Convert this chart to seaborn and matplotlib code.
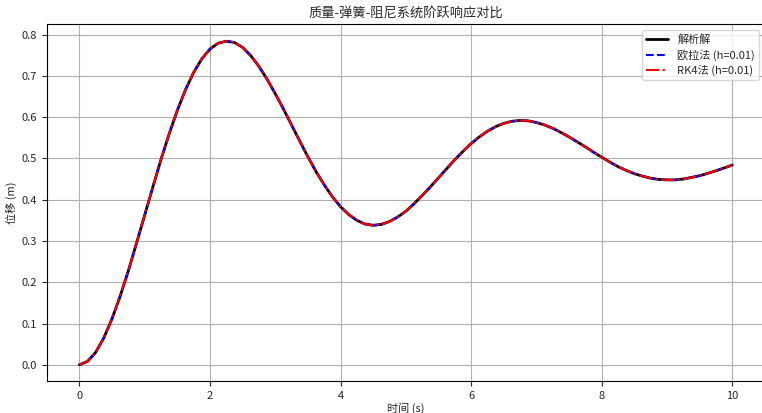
import numpy as np
import pandas as pd
import matplotlib
matplotlib.use("Agg")
import matplotlib.pyplot as plt
import seaborn as sns

# Values (t in s, displacement in m)
time_s = [0.0, 0.125, 0.25, 0.375, 0.5, 0.625, 0.75, 0.875,
          1.0, 1.125, 1.25, 1.375, 1.5, 1.625, 1.75, 1.875,
          2.0, 2.125, 2.25, 2.375, 2.5, 2.625, 2.75, 2.875,
          3.0, 3.125, 3.25, 3.375, 3.5, 3.625, 3.75, 3.875,
          4.0, 4.125, 4.25, 4.375, 4.5, 4.625, 4.75, 4.875,
          5.0, 5.125, 5.25, 5.375, 5.5, 5.625, 5.75, 5.875,
          6.0, 6.125, 6.25, 6.375, 6.5, 6.625, 6.75, 6.875,
          7.0, 7.125, 7.25, 7.375, 7.5, 7.625, 7.75, 7.875,
          8.0, 8.125, 8.25, 8.375, 8.5, 8.625, 8.75, 8.875,
          9.0, 9.125, 9.25, 9.375, 9.5, 9.625, 9.75, 9.875, 10.0]
analytic = [0.000, 0.008, 0.030, 0.065, 0.111, 0.166, 0.227, 0.294,
            0.362, 0.430, 0.497, 0.559, 0.616, 0.666, 0.708, 0.741,
            0.765, 0.779, 0.784, 0.781, 0.769, 0.749, 0.723, 0.692,
            0.657, 0.620, 0.581, 0.542, 0.504, 0.468, 0.436, 0.407,
            0.383, 0.364, 0.350, 0.341, 0.338, 0.340, 0.347, 0.358,
            0.372, 0.390, 0.410, 0.431, 0.453, 0.475, 0.497, 0.517,
            0.536, 0.552, 0.566, 0.577, 0.585, 0.590, 0.592, 0.591,
            0.587, 0.581, 0.573, 0.563, 0.552, 0.540, 0.528, 0.515,
            0.503, 0.491, 0.480, 0.471, 0.463, 0.457, 0.452, 0.449,
            0.448, 0.448, 0.450, 0.454, 0.458, 0.464, 0.470, 0.477, 0.484]
# the numerical solutions overlap the analytic curve in the picture
euler = list(analytic)
rk4 = list(analytic)

labels = ["解析解", "欧拉法 (h=0.01)", "RK4法 (h=0.01)"]

sns.set_style("ticks")
plt.rcParams['font.family'] = ['Noto Sans CJK SC', 'DejaVu Sans']
plt.rcParams['axes.unicode_minus'] = False

fig = plt.figure(figsize=(7.62, 4.13), dpi=100)
ax = fig.add_axes([0.0612, 0.0775, 0.9428, 0.8637])

df = pd.DataFrame({"t": time_s, "a": analytic, "e": euler, "r": rk4})
sns.lineplot(data=df, x="t", y="a", ax=ax, color="black", linewidth=2, label=labels[0])
sns.lineplot(data=df, x="t", y="e", ax=ax, color="blue", linewidth=1.5, linestyle="--", label=labels[1])
sns.lineplot(data=df, x="t", y="r", ax=ax, color="red", linewidth=1.5, linestyle="-.", label=labels[2])

ax.set_title("质量-弹簧-阻尼系统阶跃响应对比", fontsize=9.5, pad=5)
ax.set_xlabel("时间 (s)", fontsize=8, labelpad=1)
ax.set_ylabel("位移 (m)", fontsize=8, labelpad=3)
ax.tick_params(labelsize=8)
ax.grid(True, color="#b0b0b0", linewidth=0.8)
for s in ax.spines.values():
    s.set_color("black")
    s.set_linewidth(0.8)
ax.set_xlim(-0.5, 10.5)
ax.set_ylim(-0.0393, 0.825)
ax.legend(loc="upper right", fontsize=8, frameon=True, labelspacing=0.35)

fig.savefig("out.png", dpi=100)
